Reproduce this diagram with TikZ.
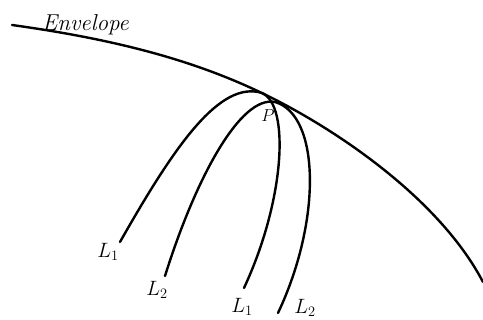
\documentclass[tikz,border=0pt]{standalone}
\begin{document}
\begin{tikzpicture}[x=1pt,y=-1pt,
  curve/.style={line width=2.4pt,line cap=round},
  lab/.style={font=\fontsize{21}{24}\selectfont,inner sep=0pt}]
\useasboundingbox (0,0) rectangle (483,320);
% envelope
\draw[curve] (12,25) .. controls (120,40) and (200,62) .. (270,97) .. controls (340,132) and (440,200) .. (483,282);
% L1 curve
\draw[curve] (120,242) .. controls (175,145) and (220,80) .. (262,93) .. controls (290,105) and (285,200) .. (244,288);
% L2 curve
\draw[curve] (165,276) .. controls (195,180) and (240,95) .. (275,102) .. controls (320,115) and (322,220) .. (278,313);
% labels
\node[lab,font=\fontsize{23}{26}\selectfont\itshape,anchor=base west] (env) at (42,31) {Envelope};
\node[lab,font=\fontsize{18}{20}\selectfont] (p) at (268,116) {$P$};
\node[lab] (l1a) at (108,252) {$L_1$};
\node[lab] (l2a) at (157,290) {$L_2$};
\node[lab] (l1b) at (242,307) {$L_1$};
\node[lab] (l2b) at (305,308) {$L_2$};
\end{tikzpicture}
\end{document}
